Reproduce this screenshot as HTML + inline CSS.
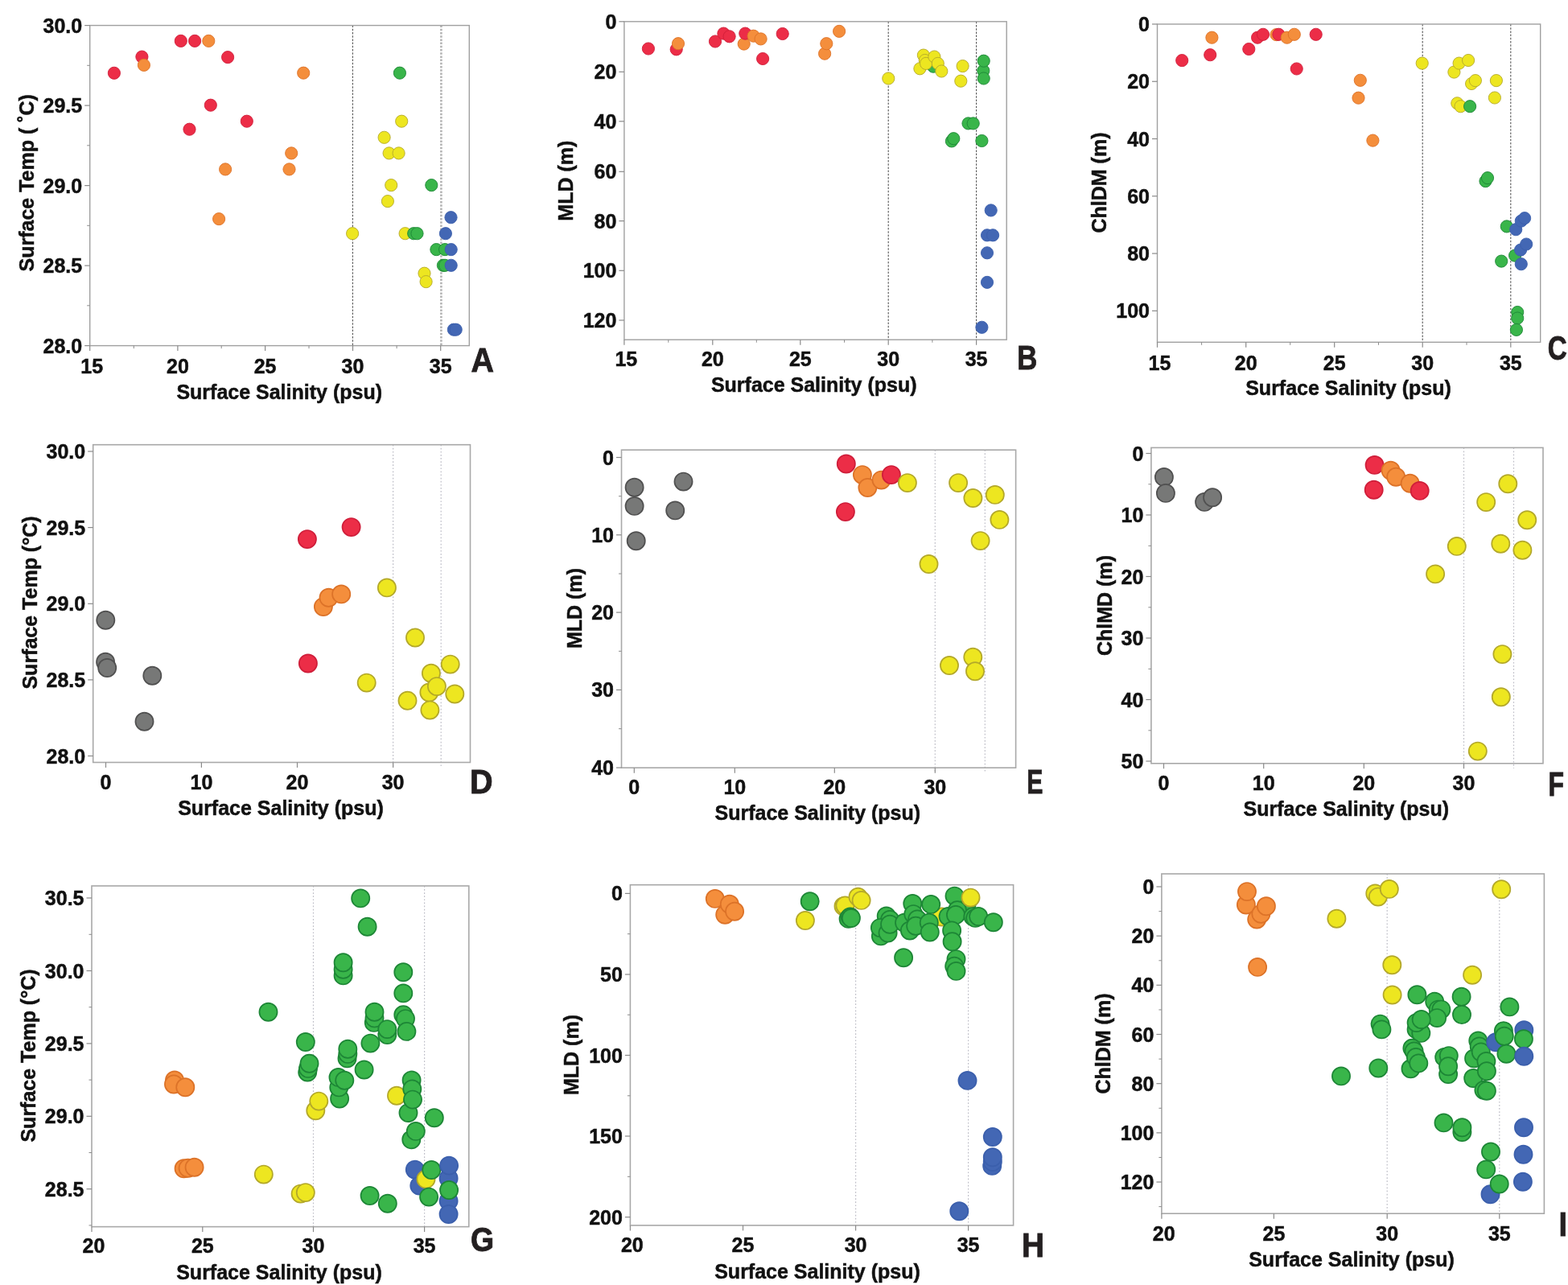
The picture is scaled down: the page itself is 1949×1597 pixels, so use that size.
<!DOCTYPE html>
<html><head><meta charset="utf-8"><title>Scatter plots</title>
<style>
html,body{margin:0;padding:0;background:#fff;}
body{width:1949px;height:1597px;overflow:hidden;}
svg{display:block;}
.t{font-family:'Liberation Sans', Arial, Helvetica, sans-serif;font-weight:bold;font-size:25px;fill:#111;stroke:#111;stroke-width:0.5px;}
.L{font-family:'Liberation Sans', Arial, Helvetica, sans-serif;font-weight:bold;font-size:100px;fill:#231f20;stroke:#231f20;stroke-width:2px;}
</style></head><body>
<svg width="1949" height="1597" viewBox="0 0 1949 1597">
<line x1="438.4" y1="31.6" x2="438.4" y2="429.6" stroke="#555" stroke-width="1.1" stroke-dasharray="2.5,1.7"/>
<line x1="548.4" y1="31.6" x2="548.4" y2="429.6" stroke="#b4b4b4" stroke-width="2.6" stroke-dasharray="2.5,1.7"/>
<rect x="111.7" y="31.6" width="471.59999999999997" height="398.0" fill="none" stroke="#a0a0a0" stroke-width="1.4"/>
<line x1="105.2" y1="31.6" x2="111.7" y2="31.6" stroke="#8a8a8a" stroke-width="1.2"/>
<text x="102.2" y="40.6" text-anchor="end" class="t">30.0</text>
<line x1="105.2" y1="131.1" x2="111.7" y2="131.1" stroke="#8a8a8a" stroke-width="1.2"/>
<text x="102.2" y="140.1" text-anchor="end" class="t">29.5</text>
<line x1="105.2" y1="230.6" x2="111.7" y2="230.6" stroke="#8a8a8a" stroke-width="1.2"/>
<text x="102.2" y="239.6" text-anchor="end" class="t">29.0</text>
<line x1="105.2" y1="330.1" x2="111.7" y2="330.1" stroke="#8a8a8a" stroke-width="1.2"/>
<text x="102.2" y="339.1" text-anchor="end" class="t">28.5</text>
<line x1="105.2" y1="429.6" x2="111.7" y2="429.6" stroke="#8a8a8a" stroke-width="1.2"/>
<text x="102.2" y="438.6" text-anchor="end" class="t">28.0</text>
<line x1="108.2" y1="81.3" x2="111.7" y2="81.3" stroke="#8a8a8a" stroke-width="1"/>
<line x1="108.2" y1="180.8" x2="111.7" y2="180.8" stroke="#8a8a8a" stroke-width="1"/>
<line x1="108.2" y1="280.3" x2="111.7" y2="280.3" stroke="#8a8a8a" stroke-width="1"/>
<line x1="108.2" y1="379.8" x2="111.7" y2="379.8" stroke="#8a8a8a" stroke-width="1"/>
<line x1="111.7" y1="429.6" x2="111.7" y2="436.1" stroke="#8a8a8a" stroke-width="1.2"/>
<text x="114.2" y="464" text-anchor="middle" class="t">15</text>
<line x1="220.9" y1="429.6" x2="220.9" y2="436.1" stroke="#8a8a8a" stroke-width="1.2"/>
<text x="220.9" y="464" text-anchor="middle" class="t">20</text>
<line x1="329.6" y1="429.6" x2="329.6" y2="436.1" stroke="#8a8a8a" stroke-width="1.2"/>
<text x="329.6" y="464" text-anchor="middle" class="t">25</text>
<line x1="438.5" y1="429.6" x2="438.5" y2="436.1" stroke="#8a8a8a" stroke-width="1.2"/>
<text x="438.5" y="464" text-anchor="middle" class="t">30</text>
<line x1="547.7" y1="429.6" x2="547.7" y2="436.1" stroke="#8a8a8a" stroke-width="1.2"/>
<text x="547.7" y="464" text-anchor="middle" class="t">35</text>
<line x1="166.3" y1="429.6" x2="166.3" y2="433.1" stroke="#8a8a8a" stroke-width="1"/>
<line x1="275.2" y1="429.6" x2="275.2" y2="433.1" stroke="#8a8a8a" stroke-width="1"/>
<line x1="384.0" y1="429.6" x2="384.0" y2="433.1" stroke="#8a8a8a" stroke-width="1"/>
<line x1="493.1" y1="429.6" x2="493.1" y2="433.1" stroke="#8a8a8a" stroke-width="1"/>
<circle cx="141.9" cy="90.8" r="7.6" fill="#EC2D47" stroke="#cf1e3a" stroke-width="0.9"/>
<circle cx="176.4" cy="70.6" r="7.6" fill="#EC2D47" stroke="#cf1e3a" stroke-width="0.9"/>
<circle cx="178.9" cy="80.9" r="7.6" fill="#F48E3C" stroke="#dc7228" stroke-width="0.9"/>
<circle cx="224.8" cy="50.9" r="7.6" fill="#EC2D47" stroke="#cf1e3a" stroke-width="0.9"/>
<circle cx="242.1" cy="50.9" r="7.6" fill="#EC2D47" stroke="#cf1e3a" stroke-width="0.9"/>
<circle cx="259.3" cy="50.9" r="7.6" fill="#F48E3C" stroke="#dc7228" stroke-width="0.9"/>
<circle cx="283.1" cy="71.1" r="7.6" fill="#EC2D47" stroke="#cf1e3a" stroke-width="0.9"/>
<circle cx="261.8" cy="130.7" r="7.6" fill="#EC2D47" stroke="#cf1e3a" stroke-width="0.9"/>
<circle cx="306.8" cy="150.7" r="7.6" fill="#EC2D47" stroke="#cf1e3a" stroke-width="0.9"/>
<circle cx="235.5" cy="160.7" r="7.6" fill="#EC2D47" stroke="#cf1e3a" stroke-width="0.9"/>
<circle cx="377.2" cy="90.7" r="7.6" fill="#F48E3C" stroke="#dc7228" stroke-width="0.9"/>
<circle cx="362.2" cy="190.4" r="7.6" fill="#F48E3C" stroke="#dc7228" stroke-width="0.9"/>
<circle cx="359.5" cy="210.4" r="7.6" fill="#F48E3C" stroke="#dc7228" stroke-width="0.9"/>
<circle cx="280.1" cy="210.4" r="7.6" fill="#F48E3C" stroke="#dc7228" stroke-width="0.9"/>
<circle cx="272.1" cy="272.1" r="7.6" fill="#F48E3C" stroke="#dc7228" stroke-width="0.9"/>
<circle cx="496.9" cy="90.7" r="7.6" fill="#39B54A" stroke="#1d8636" stroke-width="0.9"/>
<circle cx="536.3" cy="230.1" r="7.6" fill="#39B54A" stroke="#1d8636" stroke-width="0.9"/>
<circle cx="477.6" cy="170.8" r="7.6" fill="#EDE620" stroke="#b3a82a" stroke-width="0.9"/>
<circle cx="499.2" cy="150.7" r="7.6" fill="#EDE620" stroke="#b3a82a" stroke-width="0.9"/>
<circle cx="483.6" cy="190.4" r="7.6" fill="#EDE620" stroke="#b3a82a" stroke-width="0.9"/>
<circle cx="495.6" cy="190.4" r="7.6" fill="#EDE620" stroke="#b3a82a" stroke-width="0.9"/>
<circle cx="486.2" cy="230.1" r="7.6" fill="#EDE620" stroke="#b3a82a" stroke-width="0.9"/>
<circle cx="481.9" cy="250.1" r="7.6" fill="#EDE620" stroke="#b3a82a" stroke-width="0.9"/>
<circle cx="438.1" cy="290.2" r="7.6" fill="#EDE620" stroke="#b3a82a" stroke-width="0.9"/>
<circle cx="503.6" cy="290.2" r="7.6" fill="#EDE620" stroke="#b3a82a" stroke-width="0.9"/>
<circle cx="514.2" cy="290.2" r="7.6" fill="#39B54A" stroke="#1d8636" stroke-width="0.9"/>
<circle cx="518.5" cy="290.2" r="7.6" fill="#39B54A" stroke="#1d8636" stroke-width="0.9"/>
<circle cx="560.5" cy="270.2" r="7.6" fill="#4367B4" stroke="#3b5fac" stroke-width="0.9"/>
<circle cx="553.9" cy="290.2" r="7.6" fill="#4367B4" stroke="#3b5fac" stroke-width="0.9"/>
<circle cx="542.4" cy="310.1" r="7.6" fill="#39B54A" stroke="#1d8636" stroke-width="0.9"/>
<circle cx="553.1" cy="310.1" r="7.6" fill="#39B54A" stroke="#1d8636" stroke-width="0.9"/>
<circle cx="560.7" cy="310.1" r="7.6" fill="#4367B4" stroke="#3b5fac" stroke-width="0.9"/>
<circle cx="550.9" cy="329.8" r="7.6" fill="#39B54A" stroke="#1d8636" stroke-width="0.9"/>
<circle cx="553.1" cy="329.8" r="7.6" fill="#39B54A" stroke="#1d8636" stroke-width="0.9"/>
<circle cx="560.7" cy="329.8" r="7.6" fill="#4367B4" stroke="#3b5fac" stroke-width="0.9"/>
<circle cx="527.5" cy="339.7" r="7.6" fill="#EDE620" stroke="#b3a82a" stroke-width="0.9"/>
<circle cx="529.6" cy="350.1" r="7.6" fill="#EDE620" stroke="#b3a82a" stroke-width="0.9"/>
<circle cx="563.9" cy="409.7" r="7.6" fill="#4367B4" stroke="#3b5fac" stroke-width="0.9"/>
<circle cx="566.7" cy="409.7" r="7.6" fill="#4367B4" stroke="#3b5fac" stroke-width="0.9"/>
<text x="347.2" y="496" text-anchor="middle" class="t" >Surface Salinity (psu)</text>
<text transform="translate(41.5,227.3) rotate(-90)" x="0" y="0" text-anchor="middle" class="t" >Surface Temp ( ˚C)</text>
<text transform="matrix(0.3940,0,0,0.4290,585.51,461.60)" x="0" y="0" class="L">A</text>
<line x1="1104.2" y1="26.8" x2="1104.2" y2="422.2" stroke="#555" stroke-width="1.1" stroke-dasharray="2.5,1.7"/>
<line x1="1213.6" y1="26.8" x2="1213.6" y2="422.2" stroke="#555" stroke-width="1.1" stroke-dasharray="2.5,1.7"/>
<rect x="775.9" y="26.8" width="475.30000000000007" height="395.4" fill="none" stroke="#a0a0a0" stroke-width="1.4"/>
<line x1="769.4" y1="26.8" x2="775.9" y2="26.8" stroke="#8a8a8a" stroke-width="1.2"/>
<text x="766.4" y="35.8" text-anchor="end" class="t">0</text>
<line x1="769.4" y1="89.3" x2="775.9" y2="89.3" stroke="#8a8a8a" stroke-width="1.2"/>
<text x="766.4" y="98.3" text-anchor="end" class="t">20</text>
<line x1="769.4" y1="150.8" x2="775.9" y2="150.8" stroke="#8a8a8a" stroke-width="1.2"/>
<text x="766.4" y="159.8" text-anchor="end" class="t">40</text>
<line x1="769.4" y1="213.3" x2="775.9" y2="213.3" stroke="#8a8a8a" stroke-width="1.2"/>
<text x="766.4" y="222.3" text-anchor="end" class="t">60</text>
<line x1="769.4" y1="274.6" x2="775.9" y2="274.6" stroke="#8a8a8a" stroke-width="1.2"/>
<text x="766.4" y="283.6" text-anchor="end" class="t">80</text>
<line x1="769.4" y1="336.3" x2="775.9" y2="336.3" stroke="#8a8a8a" stroke-width="1.2"/>
<text x="766.4" y="345.3" text-anchor="end" class="t">100</text>
<line x1="769.4" y1="398.0" x2="775.9" y2="398.0" stroke="#8a8a8a" stroke-width="1.2"/>
<text x="766.4" y="407.0" text-anchor="end" class="t">120</text>
<line x1="775.9" y1="422.2" x2="775.9" y2="428.7" stroke="#8a8a8a" stroke-width="1.2"/>
<text x="778.3" y="455" text-anchor="middle" class="t">15</text>
<line x1="885.8" y1="422.2" x2="885.8" y2="428.7" stroke="#8a8a8a" stroke-width="1.2"/>
<text x="885.8" y="455" text-anchor="middle" class="t">20</text>
<line x1="994.8" y1="422.2" x2="994.8" y2="428.7" stroke="#8a8a8a" stroke-width="1.2"/>
<text x="994.8" y="455" text-anchor="middle" class="t">25</text>
<line x1="1104.2" y1="422.2" x2="1104.2" y2="428.7" stroke="#8a8a8a" stroke-width="1.2"/>
<text x="1104.2" y="455" text-anchor="middle" class="t">30</text>
<line x1="1213.6" y1="422.2" x2="1213.6" y2="428.7" stroke="#8a8a8a" stroke-width="1.2"/>
<text x="1213.6" y="455" text-anchor="middle" class="t">35</text>
<line x1="830.8" y1="422.2" x2="830.8" y2="425.7" stroke="#8a8a8a" stroke-width="1"/>
<line x1="940.3" y1="422.2" x2="940.3" y2="425.7" stroke="#8a8a8a" stroke-width="1"/>
<line x1="1049.5" y1="422.2" x2="1049.5" y2="425.7" stroke="#8a8a8a" stroke-width="1"/>
<line x1="1158.9" y1="422.2" x2="1158.9" y2="425.7" stroke="#8a8a8a" stroke-width="1"/>
<circle cx="805.9" cy="60.5" r="7.6" fill="#EC2D47" stroke="#cf1e3a" stroke-width="0.9"/>
<circle cx="840.7" cy="61.3" r="7.6" fill="#EC2D47" stroke="#cf1e3a" stroke-width="0.9"/>
<circle cx="843.0" cy="54.2" r="7.6" fill="#F48E3C" stroke="#dc7228" stroke-width="0.9"/>
<circle cx="889.0" cy="51.5" r="7.6" fill="#EC2D47" stroke="#cf1e3a" stroke-width="0.9"/>
<circle cx="899.4" cy="41.6" r="7.6" fill="#EC2D47" stroke="#cf1e3a" stroke-width="0.9"/>
<circle cx="906.6" cy="45.3" r="7.6" fill="#EC2D47" stroke="#cf1e3a" stroke-width="0.9"/>
<circle cx="924.7" cy="54.6" r="7.6" fill="#F48E3C" stroke="#dc7228" stroke-width="0.9"/>
<circle cx="926.3" cy="41.6" r="7.6" fill="#EC2D47" stroke="#cf1e3a" stroke-width="0.9"/>
<circle cx="936.6" cy="44.7" r="7.6" fill="#F48E3C" stroke="#dc7228" stroke-width="0.9"/>
<circle cx="945.6" cy="48.4" r="7.6" fill="#F48E3C" stroke="#dc7228" stroke-width="0.9"/>
<circle cx="948.1" cy="73.0" r="7.6" fill="#EC2D47" stroke="#cf1e3a" stroke-width="0.9"/>
<circle cx="972.7" cy="42.0" r="7.6" fill="#EC2D47" stroke="#cf1e3a" stroke-width="0.9"/>
<circle cx="1043.1" cy="38.9" r="7.6" fill="#F48E3C" stroke="#dc7228" stroke-width="0.9"/>
<circle cx="1025.1" cy="66.7" r="7.6" fill="#F48E3C" stroke="#dc7228" stroke-width="0.9"/>
<circle cx="1027.3" cy="54.2" r="7.6" fill="#F48E3C" stroke="#dc7228" stroke-width="0.9"/>
<circle cx="1104.3" cy="97.5" r="7.6" fill="#EDE620" stroke="#b3a82a" stroke-width="0.9"/>
<circle cx="1160.1" cy="82.7" r="7.6" fill="#39B54A" stroke="#1d8636" stroke-width="0.9"/>
<circle cx="1147.9" cy="68.6" r="7.6" fill="#EDE620" stroke="#b3a82a" stroke-width="0.9"/>
<circle cx="1149.8" cy="75.0" r="7.6" fill="#EDE620" stroke="#b3a82a" stroke-width="0.9"/>
<circle cx="1143.4" cy="85.3" r="7.6" fill="#EDE620" stroke="#b3a82a" stroke-width="0.9"/>
<circle cx="1151.1" cy="78.9" r="7.6" fill="#EDE620" stroke="#b3a82a" stroke-width="0.9"/>
<circle cx="1161.4" cy="70.5" r="7.6" fill="#EDE620" stroke="#b3a82a" stroke-width="0.9"/>
<circle cx="1165.8" cy="78.9" r="7.6" fill="#EDE620" stroke="#b3a82a" stroke-width="0.9"/>
<circle cx="1170.3" cy="88.5" r="7.6" fill="#EDE620" stroke="#b3a82a" stroke-width="0.9"/>
<circle cx="1196.6" cy="82.1" r="7.6" fill="#EDE620" stroke="#b3a82a" stroke-width="0.9"/>
<circle cx="1194.3" cy="100.7" r="7.6" fill="#EDE620" stroke="#b3a82a" stroke-width="0.9"/>
<circle cx="1222.3" cy="87.9" r="7.6" fill="#39B54A" stroke="#1d8636" stroke-width="0.9"/>
<circle cx="1222.7" cy="75.7" r="7.6" fill="#39B54A" stroke="#1d8636" stroke-width="0.9"/>
<circle cx="1222.7" cy="97.5" r="7.6" fill="#39B54A" stroke="#1d8636" stroke-width="0.9"/>
<circle cx="1203.5" cy="153.4" r="7.6" fill="#39B54A" stroke="#1d8636" stroke-width="0.9"/>
<circle cx="1209.7" cy="153.4" r="7.6" fill="#39B54A" stroke="#1d8636" stroke-width="0.9"/>
<circle cx="1182.9" cy="175.4" r="7.6" fill="#39B54A" stroke="#1d8636" stroke-width="0.9"/>
<circle cx="1185.3" cy="172.2" r="7.6" fill="#39B54A" stroke="#1d8636" stroke-width="0.9"/>
<circle cx="1220.4" cy="175.0" r="7.6" fill="#39B54A" stroke="#1d8636" stroke-width="0.9"/>
<circle cx="1231.7" cy="261.4" r="7.6" fill="#4367B4" stroke="#3b5fac" stroke-width="0.9"/>
<circle cx="1227.0" cy="292.3" r="7.6" fill="#4367B4" stroke="#3b5fac" stroke-width="0.9"/>
<circle cx="1234.1" cy="292.3" r="7.6" fill="#4367B4" stroke="#3b5fac" stroke-width="0.9"/>
<circle cx="1227.0" cy="314.3" r="7.6" fill="#4367B4" stroke="#3b5fac" stroke-width="0.9"/>
<circle cx="1227.0" cy="350.9" r="7.6" fill="#4367B4" stroke="#3b5fac" stroke-width="0.9"/>
<circle cx="1220.4" cy="406.8" r="7.6" fill="#4367B4" stroke="#3b5fac" stroke-width="0.9"/>
<text x="1011.7" y="486.5" text-anchor="middle" class="t" >Surface Salinity (psu)</text>
<text transform="translate(711.8,224.7) rotate(-90)" x="0" y="0" text-anchor="middle" class="t" >MLD (m)</text>
<text transform="matrix(0.3475,0,0,0.4246,1264.14,459.40)" x="0" y="0" class="L">B</text>
<line x1="1768.2" y1="30" x2="1768.2" y2="425.3" stroke="#555" stroke-width="1.1" stroke-dasharray="2.5,1.7"/>
<line x1="1877.8" y1="30" x2="1877.8" y2="425.3" stroke="#555" stroke-width="1.1" stroke-dasharray="2.5,1.7"/>
<rect x="1438.5" y="30" width="476.20000000000005" height="395.3" fill="none" stroke="#a0a0a0" stroke-width="1.4"/>
<line x1="1432.0" y1="30.0" x2="1438.5" y2="30.0" stroke="#8a8a8a" stroke-width="1.2"/>
<text x="1429.0" y="39.0" text-anchor="end" class="t">0</text>
<line x1="1432.0" y1="101.26" x2="1438.5" y2="101.26" stroke="#8a8a8a" stroke-width="1.2"/>
<text x="1429.0" y="110.26" text-anchor="end" class="t">20</text>
<line x1="1432.0" y1="172.52" x2="1438.5" y2="172.52" stroke="#8a8a8a" stroke-width="1.2"/>
<text x="1429.0" y="181.52" text-anchor="end" class="t">40</text>
<line x1="1432.0" y1="243.78000000000003" x2="1438.5" y2="243.78000000000003" stroke="#8a8a8a" stroke-width="1.2"/>
<text x="1429.0" y="252.78000000000003" text-anchor="end" class="t">60</text>
<line x1="1432.0" y1="315.04" x2="1438.5" y2="315.04" stroke="#8a8a8a" stroke-width="1.2"/>
<text x="1429.0" y="324.04" text-anchor="end" class="t">80</text>
<line x1="1432.0" y1="386.3" x2="1438.5" y2="386.3" stroke="#8a8a8a" stroke-width="1.2"/>
<text x="1429.0" y="395.3" text-anchor="end" class="t">100</text>
<line x1="1438.5" y1="425.3" x2="1438.5" y2="431.8" stroke="#8a8a8a" stroke-width="1.2"/>
<text x="1441.5" y="460" text-anchor="middle" class="t">15</text>
<line x1="1548.7" y1="425.3" x2="1548.7" y2="431.8" stroke="#8a8a8a" stroke-width="1.2"/>
<text x="1548.7" y="460" text-anchor="middle" class="t">20</text>
<line x1="1658.7" y1="425.3" x2="1658.7" y2="431.8" stroke="#8a8a8a" stroke-width="1.2"/>
<text x="1658.7" y="460" text-anchor="middle" class="t">25</text>
<line x1="1768.2" y1="425.3" x2="1768.2" y2="431.8" stroke="#8a8a8a" stroke-width="1.2"/>
<text x="1768.2" y="460" text-anchor="middle" class="t">30</text>
<line x1="1877.8" y1="425.3" x2="1877.8" y2="431.8" stroke="#8a8a8a" stroke-width="1.2"/>
<text x="1877.8" y="460" text-anchor="middle" class="t">35</text>
<line x1="1493.6" y1="425.3" x2="1493.6" y2="428.8" stroke="#8a8a8a" stroke-width="1"/>
<line x1="1603.7" y1="425.3" x2="1603.7" y2="428.8" stroke="#8a8a8a" stroke-width="1"/>
<line x1="1713.5" y1="425.3" x2="1713.5" y2="428.8" stroke="#8a8a8a" stroke-width="1"/>
<line x1="1823.0" y1="425.3" x2="1823.0" y2="428.8" stroke="#8a8a8a" stroke-width="1"/>
<circle cx="1469.2" cy="75.1" r="7.6" fill="#EC2D47" stroke="#cf1e3a" stroke-width="0.9"/>
<circle cx="1506.4" cy="46.7" r="7.6" fill="#F48E3C" stroke="#dc7228" stroke-width="0.9"/>
<circle cx="1504.2" cy="68.2" r="7.6" fill="#EC2D47" stroke="#cf1e3a" stroke-width="0.9"/>
<circle cx="1552.3" cy="61.0" r="7.6" fill="#EC2D47" stroke="#cf1e3a" stroke-width="0.9"/>
<circle cx="1563.1" cy="46.7" r="7.6" fill="#EC2D47" stroke="#cf1e3a" stroke-width="0.9"/>
<circle cx="1570.0" cy="42.8" r="7.6" fill="#EC2D47" stroke="#cf1e3a" stroke-width="0.9"/>
<circle cx="1586.5" cy="43.1" r="7.6" fill="#F48E3C" stroke="#dc7228" stroke-width="0.9"/>
<circle cx="1589.4" cy="42.8" r="7.6" fill="#EC2D47" stroke="#cf1e3a" stroke-width="0.9"/>
<circle cx="1599.7" cy="46.7" r="7.6" fill="#F48E3C" stroke="#dc7228" stroke-width="0.9"/>
<circle cx="1608.8" cy="42.8" r="7.6" fill="#F48E3C" stroke="#dc7228" stroke-width="0.9"/>
<circle cx="1635.7" cy="42.8" r="7.6" fill="#EC2D47" stroke="#cf1e3a" stroke-width="0.9"/>
<circle cx="1611.7" cy="85.5" r="7.6" fill="#EC2D47" stroke="#cf1e3a" stroke-width="0.9"/>
<circle cx="1690.8" cy="99.8" r="7.6" fill="#F48E3C" stroke="#dc7228" stroke-width="0.9"/>
<circle cx="1688.5" cy="121.7" r="7.6" fill="#F48E3C" stroke="#dc7228" stroke-width="0.9"/>
<circle cx="1706.4" cy="174.6" r="7.6" fill="#F48E3C" stroke="#dc7228" stroke-width="0.9"/>
<circle cx="1767.7" cy="78.6" r="7.6" fill="#EDE620" stroke="#b3a82a" stroke-width="0.9"/>
<circle cx="1807.4" cy="89.6" r="7.6" fill="#EDE620" stroke="#b3a82a" stroke-width="0.9"/>
<circle cx="1813.6" cy="78.6" r="7.6" fill="#EDE620" stroke="#b3a82a" stroke-width="0.9"/>
<circle cx="1825.1" cy="75.0" r="7.6" fill="#EDE620" stroke="#b3a82a" stroke-width="0.9"/>
<circle cx="1829.1" cy="104.0" r="7.6" fill="#EDE620" stroke="#b3a82a" stroke-width="0.9"/>
<circle cx="1833.9" cy="100.1" r="7.6" fill="#EDE620" stroke="#b3a82a" stroke-width="0.9"/>
<circle cx="1859.9" cy="100.1" r="7.6" fill="#EDE620" stroke="#b3a82a" stroke-width="0.9"/>
<circle cx="1857.9" cy="121.5" r="7.6" fill="#EDE620" stroke="#b3a82a" stroke-width="0.9"/>
<circle cx="1811.3" cy="128.3" r="7.6" fill="#EDE620" stroke="#b3a82a" stroke-width="0.9"/>
<circle cx="1815.5" cy="132.2" r="7.6" fill="#EDE620" stroke="#b3a82a" stroke-width="0.9"/>
<circle cx="1827.1" cy="132.2" r="7.6" fill="#39B54A" stroke="#1d8636" stroke-width="0.9"/>
<circle cx="1846.5" cy="225.1" r="7.6" fill="#39B54A" stroke="#1d8636" stroke-width="0.9"/>
<circle cx="1849.0" cy="221.1" r="7.6" fill="#39B54A" stroke="#1d8636" stroke-width="0.9"/>
<circle cx="1872.8" cy="281.4" r="7.6" fill="#39B54A" stroke="#1d8636" stroke-width="0.9"/>
<circle cx="1884.2" cy="285.2" r="7.6" fill="#4367B4" stroke="#3b5fac" stroke-width="0.9"/>
<circle cx="1890.8" cy="274.6" r="7.6" fill="#4367B4" stroke="#3b5fac" stroke-width="0.9"/>
<circle cx="1895.1" cy="271.1" r="7.6" fill="#4367B4" stroke="#3b5fac" stroke-width="0.9"/>
<circle cx="1883.1" cy="317.6" r="7.6" fill="#39B54A" stroke="#1d8636" stroke-width="0.9"/>
<circle cx="1866.2" cy="324.6" r="7.6" fill="#39B54A" stroke="#1d8636" stroke-width="0.9"/>
<circle cx="1890.1" cy="310.6" r="7.6" fill="#4367B4" stroke="#3b5fac" stroke-width="0.9"/>
<circle cx="1897.2" cy="303.5" r="7.6" fill="#4367B4" stroke="#3b5fac" stroke-width="0.9"/>
<circle cx="1890.8" cy="328.2" r="7.6" fill="#4367B4" stroke="#3b5fac" stroke-width="0.9"/>
<circle cx="1886.2" cy="388.0" r="7.6" fill="#39B54A" stroke="#1d8636" stroke-width="0.9"/>
<circle cx="1886.2" cy="395.5" r="7.6" fill="#39B54A" stroke="#1d8636" stroke-width="0.9"/>
<circle cx="1884.9" cy="409.9" r="7.6" fill="#39B54A" stroke="#1d8636" stroke-width="0.9"/>
<text x="1676" y="491" text-anchor="middle" class="t" >Surface Salinity (psu)</text>
<text transform="translate(1375.3,227) rotate(-90)" x="0" y="0" text-anchor="middle" class="t" >ChlDM (m)</text>
<text transform="matrix(0.3328,0,0,0.4282,1923.87,446.97)" x="0" y="0" class="L">C</text>
<line x1="488.6" y1="552.7" x2="488.6" y2="953.5" stroke="#bdbdc6" stroke-width="1.2" stroke-dasharray="1.7,2.4"/>
<line x1="548.2" y1="552.7" x2="548.2" y2="953.5" stroke="#bdbdc6" stroke-width="1.2" stroke-dasharray="1.7,2.4"/>
<rect x="115.7" y="552.7" width="468.8" height="394.79999999999995" fill="none" stroke="#a8a8a8" stroke-width="1.6"/>
<line x1="109.2" y1="561" x2="115.7" y2="561" stroke="#8a8a8a" stroke-width="1.2"/>
<text x="106.2" y="570" text-anchor="end" class="t">30.0</text>
<line x1="109.2" y1="655.6" x2="115.7" y2="655.6" stroke="#8a8a8a" stroke-width="1.2"/>
<text x="106.2" y="664.6" text-anchor="end" class="t">29.5</text>
<line x1="109.2" y1="750.3" x2="115.7" y2="750.3" stroke="#8a8a8a" stroke-width="1.2"/>
<text x="106.2" y="759.3" text-anchor="end" class="t">29.0</text>
<line x1="109.2" y1="844.9" x2="115.7" y2="844.9" stroke="#8a8a8a" stroke-width="1.2"/>
<text x="106.2" y="853.9" text-anchor="end" class="t">28.5</text>
<line x1="109.2" y1="939.5" x2="115.7" y2="939.5" stroke="#8a8a8a" stroke-width="1.2"/>
<text x="106.2" y="948.5" text-anchor="end" class="t">28.0</text>
<line x1="131.5" y1="947.5" x2="131.5" y2="954.0" stroke="#8a8a8a" stroke-width="1.2"/>
<text x="131.5" y="981" text-anchor="middle" class="t">0</text>
<line x1="250.4" y1="947.5" x2="250.4" y2="954.0" stroke="#8a8a8a" stroke-width="1.2"/>
<text x="250.4" y="981" text-anchor="middle" class="t">10</text>
<line x1="369.5" y1="947.5" x2="369.5" y2="954.0" stroke="#8a8a8a" stroke-width="1.2"/>
<text x="369.5" y="981" text-anchor="middle" class="t">20</text>
<line x1="488.6" y1="947.5" x2="488.6" y2="954.0" stroke="#8a8a8a" stroke-width="1.2"/>
<text x="488.6" y="981" text-anchor="middle" class="t">30</text>
<circle cx="131.3" cy="770.8" r="11.1" fill="#777877" stroke="#505050" stroke-width="1.7"/>
<circle cx="131.1" cy="822.8" r="11.1" fill="#777877" stroke="#505050" stroke-width="1.7"/>
<circle cx="133.2" cy="830.0" r="11.1" fill="#777877" stroke="#505050" stroke-width="1.7"/>
<circle cx="189.3" cy="839.7" r="11.1" fill="#777877" stroke="#505050" stroke-width="1.7"/>
<circle cx="179.5" cy="896.7" r="11.1" fill="#777877" stroke="#505050" stroke-width="1.7"/>
<circle cx="381.9" cy="670.1" r="11.1" fill="#EC2D47" stroke="#cf1e3a" stroke-width="1.7"/>
<circle cx="436.6" cy="655.1" r="11.1" fill="#EC2D47" stroke="#cf1e3a" stroke-width="1.7"/>
<circle cx="382.9" cy="824.5" r="11.1" fill="#EC2D47" stroke="#cf1e3a" stroke-width="1.7"/>
<circle cx="401.9" cy="754.1" r="11.1" fill="#F48E3C" stroke="#dc7228" stroke-width="1.7"/>
<circle cx="408.5" cy="742.8" r="11.1" fill="#F48E3C" stroke="#dc7228" stroke-width="1.7"/>
<circle cx="424.2" cy="738.4" r="11.1" fill="#F48E3C" stroke="#dc7228" stroke-width="1.7"/>
<circle cx="480.9" cy="730.4" r="11.1" fill="#EDE620" stroke="#b3a82a" stroke-width="1.7"/>
<circle cx="516.0" cy="792.5" r="11.1" fill="#EDE620" stroke="#b3a82a" stroke-width="1.7"/>
<circle cx="455.7" cy="848.6" r="11.1" fill="#EDE620" stroke="#b3a82a" stroke-width="1.7"/>
<circle cx="559.7" cy="825.6" r="11.1" fill="#EDE620" stroke="#b3a82a" stroke-width="1.7"/>
<circle cx="535.9" cy="836.7" r="11.1" fill="#EDE620" stroke="#b3a82a" stroke-width="1.7"/>
<circle cx="533.4" cy="860.5" r="11.1" fill="#EDE620" stroke="#b3a82a" stroke-width="1.7"/>
<circle cx="542.9" cy="853.1" r="11.1" fill="#EDE620" stroke="#b3a82a" stroke-width="1.7"/>
<circle cx="565.3" cy="862.5" r="11.1" fill="#EDE620" stroke="#b3a82a" stroke-width="1.7"/>
<circle cx="506.5" cy="870.7" r="11.1" fill="#EDE620" stroke="#b3a82a" stroke-width="1.7"/>
<circle cx="534.4" cy="882.6" r="11.1" fill="#EDE620" stroke="#b3a82a" stroke-width="1.7"/>
<text x="349" y="1012.5" text-anchor="middle" class="t" >Surface Salinity (psu)</text>
<text transform="translate(46,749) rotate(-90)" x="0" y="0" text-anchor="middle" class="t" >Surface Temp (°C)</text>
<text transform="matrix(0.3967,0,0,0.4275,583.92,986.20)" x="0" y="0" class="L">D</text>
<line x1="1162.3" y1="559.2" x2="1162.3" y2="960.2" stroke="#bdbdc6" stroke-width="1.2" stroke-dasharray="1.7,2.4"/>
<line x1="1224.3" y1="559.2" x2="1224.3" y2="960.2" stroke="#bdbdc6" stroke-width="1.2" stroke-dasharray="1.7,2.4"/>
<rect x="772.5" y="559.2" width="490.0999999999999" height="395.0" fill="none" stroke="#a8a8a8" stroke-width="1.6"/>
<line x1="766.0" y1="568.5" x2="772.5" y2="568.5" stroke="#8a8a8a" stroke-width="1.2"/>
<text x="763.0" y="577.5" text-anchor="end" class="t">0</text>
<line x1="766.0" y1="664.8" x2="772.5" y2="664.8" stroke="#8a8a8a" stroke-width="1.2"/>
<text x="763.0" y="673.8" text-anchor="end" class="t">10</text>
<line x1="766.0" y1="761.1" x2="772.5" y2="761.1" stroke="#8a8a8a" stroke-width="1.2"/>
<text x="763.0" y="770.1" text-anchor="end" class="t">20</text>
<line x1="766.0" y1="857.4" x2="772.5" y2="857.4" stroke="#8a8a8a" stroke-width="1.2"/>
<text x="763.0" y="866.4" text-anchor="end" class="t">30</text>
<line x1="766.0" y1="954.1" x2="772.5" y2="954.1" stroke="#8a8a8a" stroke-width="1.2"/>
<text x="763.0" y="963.1" text-anchor="end" class="t">40</text>
<line x1="769.0" y1="616.7" x2="772.5" y2="616.7" stroke="#8a8a8a" stroke-width="1"/>
<line x1="769.0" y1="713.0" x2="772.5" y2="713.0" stroke="#8a8a8a" stroke-width="1"/>
<line x1="769.0" y1="809.3" x2="772.5" y2="809.3" stroke="#8a8a8a" stroke-width="1"/>
<line x1="769.0" y1="905.7" x2="772.5" y2="905.7" stroke="#8a8a8a" stroke-width="1"/>
<line x1="788.3" y1="954.2" x2="788.3" y2="960.7" stroke="#8a8a8a" stroke-width="1.2"/>
<text x="788.3" y="987" text-anchor="middle" class="t">0</text>
<line x1="913.3" y1="954.2" x2="913.3" y2="960.7" stroke="#8a8a8a" stroke-width="1.2"/>
<text x="913.3" y="987" text-anchor="middle" class="t">10</text>
<line x1="1037.3" y1="954.2" x2="1037.3" y2="960.7" stroke="#8a8a8a" stroke-width="1.2"/>
<text x="1037.3" y="987" text-anchor="middle" class="t">20</text>
<line x1="1162.3" y1="954.2" x2="1162.3" y2="960.7" stroke="#8a8a8a" stroke-width="1.2"/>
<text x="1162.3" y="987" text-anchor="middle" class="t">30</text>
<circle cx="788.6" cy="605.8" r="11.1" fill="#777877" stroke="#505050" stroke-width="1.7"/>
<circle cx="788.6" cy="628.9" r="11.1" fill="#777877" stroke="#505050" stroke-width="1.7"/>
<circle cx="790.7" cy="672.3" r="11.1" fill="#777877" stroke="#505050" stroke-width="1.7"/>
<circle cx="849.5" cy="598.6" r="11.1" fill="#777877" stroke="#505050" stroke-width="1.7"/>
<circle cx="839.2" cy="634.4" r="11.1" fill="#777877" stroke="#505050" stroke-width="1.7"/>
<circle cx="1051.8" cy="576.5" r="11.1" fill="#EC2D47" stroke="#cf1e3a" stroke-width="1.7"/>
<circle cx="1071.9" cy="590.1" r="11.1" fill="#F48E3C" stroke="#dc7228" stroke-width="1.7"/>
<circle cx="1078.4" cy="606.0" r="11.1" fill="#F48E3C" stroke="#dc7228" stroke-width="1.7"/>
<circle cx="1095.5" cy="596.6" r="11.1" fill="#F48E3C" stroke="#dc7228" stroke-width="1.7"/>
<circle cx="1107.9" cy="590.1" r="11.1" fill="#EC2D47" stroke="#cf1e3a" stroke-width="1.7"/>
<circle cx="1127.9" cy="600.1" r="11.1" fill="#EDE620" stroke="#b3a82a" stroke-width="1.7"/>
<circle cx="1050.9" cy="636.1" r="11.1" fill="#EC2D47" stroke="#cf1e3a" stroke-width="1.7"/>
<circle cx="1191.1" cy="600.1" r="11.1" fill="#EDE620" stroke="#b3a82a" stroke-width="1.7"/>
<circle cx="1209.4" cy="619.0" r="11.1" fill="#EDE620" stroke="#b3a82a" stroke-width="1.7"/>
<circle cx="1236.8" cy="614.9" r="11.1" fill="#EDE620" stroke="#b3a82a" stroke-width="1.7"/>
<circle cx="1242.4" cy="645.9" r="11.1" fill="#EDE620" stroke="#b3a82a" stroke-width="1.7"/>
<circle cx="1218.6" cy="672.1" r="11.1" fill="#EDE620" stroke="#b3a82a" stroke-width="1.7"/>
<circle cx="1154.5" cy="701.0" r="11.1" fill="#EDE620" stroke="#b3a82a" stroke-width="1.7"/>
<circle cx="1209.3" cy="816.7" r="11.1" fill="#EDE620" stroke="#b3a82a" stroke-width="1.7"/>
<circle cx="1180.0" cy="827.0" r="11.1" fill="#EDE620" stroke="#b3a82a" stroke-width="1.7"/>
<circle cx="1212.0" cy="834.3" r="11.1" fill="#EDE620" stroke="#b3a82a" stroke-width="1.7"/>
<text x="1016.3" y="1018.5" text-anchor="middle" class="t" >Surface Salinity (psu)</text>
<text transform="translate(723,756) rotate(-90)" x="0" y="0" text-anchor="middle" class="t" >MLD (m)</text>
<text transform="matrix(0.3027,0,0,0.4275,1276.23,986.20)" x="0" y="0" class="L">E</text>
<line x1="1819.5" y1="556.4" x2="1819.5" y2="954.8" stroke="#bdbdc6" stroke-width="1.2" stroke-dasharray="1.7,2.4"/>
<line x1="1881.5" y1="556.4" x2="1881.5" y2="954.8" stroke="#bdbdc6" stroke-width="1.2" stroke-dasharray="1.7,2.4"/>
<rect x="1430.9" y="556.4" width="487.0999999999999" height="392.4" fill="none" stroke="#a8a8a8" stroke-width="1.6"/>
<line x1="1424.4" y1="563.5" x2="1430.9" y2="563.5" stroke="#8a8a8a" stroke-width="1.2"/>
<text x="1421.4" y="572.5" text-anchor="end" class="t">0</text>
<line x1="1424.4" y1="640.0" x2="1430.9" y2="640.0" stroke="#8a8a8a" stroke-width="1.2"/>
<text x="1421.4" y="649.0" text-anchor="end" class="t">10</text>
<line x1="1424.4" y1="716.5" x2="1430.9" y2="716.5" stroke="#8a8a8a" stroke-width="1.2"/>
<text x="1421.4" y="725.5" text-anchor="end" class="t">20</text>
<line x1="1424.4" y1="793.0" x2="1430.9" y2="793.0" stroke="#8a8a8a" stroke-width="1.2"/>
<text x="1421.4" y="802.0" text-anchor="end" class="t">30</text>
<line x1="1424.4" y1="869.5" x2="1430.9" y2="869.5" stroke="#8a8a8a" stroke-width="1.2"/>
<text x="1421.4" y="878.5" text-anchor="end" class="t">40</text>
<line x1="1424.4" y1="946.0" x2="1430.9" y2="946.0" stroke="#8a8a8a" stroke-width="1.2"/>
<text x="1421.4" y="955.0" text-anchor="end" class="t">50</text>
<line x1="1427.4" y1="601.8" x2="1430.9" y2="601.8" stroke="#8a8a8a" stroke-width="1"/>
<line x1="1427.4" y1="678.3" x2="1430.9" y2="678.3" stroke="#8a8a8a" stroke-width="1"/>
<line x1="1427.4" y1="754.8" x2="1430.9" y2="754.8" stroke="#8a8a8a" stroke-width="1"/>
<line x1="1427.4" y1="831.3" x2="1430.9" y2="831.3" stroke="#8a8a8a" stroke-width="1"/>
<line x1="1427.4" y1="907.8" x2="1430.9" y2="907.8" stroke="#8a8a8a" stroke-width="1"/>
<line x1="1446.5" y1="948.8" x2="1446.5" y2="955.3" stroke="#8a8a8a" stroke-width="1.2"/>
<text x="1446.5" y="982" text-anchor="middle" class="t">0</text>
<line x1="1570.7" y1="948.8" x2="1570.7" y2="955.3" stroke="#8a8a8a" stroke-width="1.2"/>
<text x="1570.7" y="982" text-anchor="middle" class="t">10</text>
<line x1="1695.3" y1="948.8" x2="1695.3" y2="955.3" stroke="#8a8a8a" stroke-width="1.2"/>
<text x="1695.3" y="982" text-anchor="middle" class="t">20</text>
<line x1="1819.5" y1="948.8" x2="1819.5" y2="955.3" stroke="#8a8a8a" stroke-width="1.2"/>
<text x="1819.5" y="982" text-anchor="middle" class="t">30</text>
<circle cx="1446.9" cy="592.9" r="11.1" fill="#777877" stroke="#505050" stroke-width="1.7"/>
<circle cx="1448.9" cy="612.9" r="11.1" fill="#777877" stroke="#505050" stroke-width="1.7"/>
<circle cx="1497.1" cy="623.9" r="11.1" fill="#777877" stroke="#505050" stroke-width="1.7"/>
<circle cx="1507.1" cy="618.2" r="11.1" fill="#777877" stroke="#505050" stroke-width="1.7"/>
<circle cx="1867.4" cy="813.1" r="11.1" fill="#EDE620" stroke="#b3a82a" stroke-width="1.7"/>
<circle cx="1865.8" cy="866.3" r="11.1" fill="#EDE620" stroke="#b3a82a" stroke-width="1.7"/>
<circle cx="1836.8" cy="933.6" r="11.1" fill="#EDE620" stroke="#b3a82a" stroke-width="1.7"/>
<circle cx="1708.6" cy="577.9" r="11.1" fill="#EC2D47" stroke="#cf1e3a" stroke-width="1.7"/>
<circle cx="1728.6" cy="584.7" r="11.1" fill="#F48E3C" stroke="#dc7228" stroke-width="1.7"/>
<circle cx="1735.2" cy="592.7" r="11.1" fill="#F48E3C" stroke="#dc7228" stroke-width="1.7"/>
<circle cx="1752.7" cy="600.7" r="11.1" fill="#F48E3C" stroke="#dc7228" stroke-width="1.7"/>
<circle cx="1707.7" cy="608.7" r="11.1" fill="#EC2D47" stroke="#cf1e3a" stroke-width="1.7"/>
<circle cx="1764.7" cy="609.9" r="11.1" fill="#EC2D47" stroke="#cf1e3a" stroke-width="1.7"/>
<circle cx="1874.3" cy="601.3" r="11.1" fill="#EDE620" stroke="#b3a82a" stroke-width="1.7"/>
<circle cx="1847.2" cy="624.1" r="11.1" fill="#EDE620" stroke="#b3a82a" stroke-width="1.7"/>
<circle cx="1898.2" cy="646.3" r="11.1" fill="#EDE620" stroke="#b3a82a" stroke-width="1.7"/>
<circle cx="1810.8" cy="678.9" r="11.1" fill="#EDE620" stroke="#b3a82a" stroke-width="1.7"/>
<circle cx="1865.3" cy="675.8" r="11.1" fill="#EDE620" stroke="#b3a82a" stroke-width="1.7"/>
<circle cx="1892.4" cy="683.8" r="11.1" fill="#EDE620" stroke="#b3a82a" stroke-width="1.7"/>
<circle cx="1784.1" cy="713.4" r="11.1" fill="#EDE620" stroke="#b3a82a" stroke-width="1.7"/>
<text x="1673.3" y="1013.5" text-anchor="middle" class="t" >Surface Salinity (psu)</text>
<text transform="translate(1382,752.5) rotate(-90)" x="0" y="0" text-anchor="middle" class="t" >ChlMD (m)</text>
<text transform="matrix(0.3196,0,0,0.4261,1924.42,988.50)" x="0" y="0" class="L">F</text>
<line x1="389.5" y1="1101" x2="389.5" y2="1524.6" stroke="#bdbdc6" stroke-width="1.2" stroke-dasharray="1.7,2.4"/>
<line x1="527.6" y1="1101" x2="527.6" y2="1524.6" stroke="#bdbdc6" stroke-width="1.2" stroke-dasharray="1.7,2.4"/>
<rect x="114" y="1101" width="468.79999999999995" height="423.5999999999999" fill="none" stroke="#a8a8a8" stroke-width="1.6"/>
<line x1="107.5" y1="1116" x2="114" y2="1116" stroke="#8a8a8a" stroke-width="1.2"/>
<text x="104.5" y="1125" text-anchor="end" class="t">30.5</text>
<line x1="107.5" y1="1206.5" x2="114" y2="1206.5" stroke="#8a8a8a" stroke-width="1.2"/>
<text x="104.5" y="1215.5" text-anchor="end" class="t">30.0</text>
<line x1="107.5" y1="1296.9" x2="114" y2="1296.9" stroke="#8a8a8a" stroke-width="1.2"/>
<text x="104.5" y="1305.9" text-anchor="end" class="t">29.5</text>
<line x1="107.5" y1="1387.3" x2="114" y2="1387.3" stroke="#8a8a8a" stroke-width="1.2"/>
<text x="104.5" y="1396.3" text-anchor="end" class="t">29.0</text>
<line x1="107.5" y1="1477.7" x2="114" y2="1477.7" stroke="#8a8a8a" stroke-width="1.2"/>
<text x="104.5" y="1486.7" text-anchor="end" class="t">28.5</text>
<line x1="110.5" y1="1161.3" x2="114" y2="1161.3" stroke="#8a8a8a" stroke-width="1"/>
<line x1="110.5" y1="1251.7" x2="114" y2="1251.7" stroke="#8a8a8a" stroke-width="1"/>
<line x1="110.5" y1="1342.1" x2="114" y2="1342.1" stroke="#8a8a8a" stroke-width="1"/>
<line x1="110.5" y1="1432.5" x2="114" y2="1432.5" stroke="#8a8a8a" stroke-width="1"/>
<line x1="110.5" y1="1522.9" x2="114" y2="1522.9" stroke="#8a8a8a" stroke-width="1"/>
<line x1="114" y1="1524.6" x2="114" y2="1531.1" stroke="#8a8a8a" stroke-width="1.2"/>
<text x="116.4" y="1557" text-anchor="middle" class="t">20</text>
<line x1="251.8" y1="1524.6" x2="251.8" y2="1531.1" stroke="#8a8a8a" stroke-width="1.2"/>
<text x="251.8" y="1557" text-anchor="middle" class="t">25</text>
<line x1="389.5" y1="1524.6" x2="389.5" y2="1531.1" stroke="#8a8a8a" stroke-width="1.2"/>
<text x="389.5" y="1557" text-anchor="middle" class="t">30</text>
<line x1="527.6" y1="1524.6" x2="527.6" y2="1531.1" stroke="#8a8a8a" stroke-width="1.2"/>
<text x="527.6" y="1557" text-anchor="middle" class="t">35</text>
<circle cx="217.0" cy="1342.5" r="11.1" fill="#F48E3C" stroke="#dc7228" stroke-width="1.7"/>
<circle cx="216.0" cy="1347.5" r="11.1" fill="#F48E3C" stroke="#dc7228" stroke-width="1.7"/>
<circle cx="230.3" cy="1351.3" r="11.1" fill="#F48E3C" stroke="#dc7228" stroke-width="1.7"/>
<circle cx="228.6" cy="1452.3" r="11.1" fill="#F48E3C" stroke="#dc7228" stroke-width="1.7"/>
<circle cx="233.6" cy="1451.8" r="11.1" fill="#F48E3C" stroke="#dc7228" stroke-width="1.7"/>
<circle cx="241.6" cy="1450.8" r="11.1" fill="#F48E3C" stroke="#dc7228" stroke-width="1.7"/>
<circle cx="327.8" cy="1459.6" r="11.1" fill="#EDE620" stroke="#b3a82a" stroke-width="1.7"/>
<circle cx="373.6" cy="1483.6" r="11.1" fill="#EDE620" stroke="#b3a82a" stroke-width="1.7"/>
<circle cx="379.8" cy="1482.1" r="11.1" fill="#EDE620" stroke="#b3a82a" stroke-width="1.7"/>
<circle cx="392.3" cy="1380.3" r="11.1" fill="#EDE620" stroke="#b3a82a" stroke-width="1.7"/>
<circle cx="396.3" cy="1368.6" r="11.1" fill="#EDE620" stroke="#b3a82a" stroke-width="1.7"/>
<circle cx="448.2" cy="1116.4" r="11.1" fill="#39B54A" stroke="#1d8636" stroke-width="1.7"/>
<circle cx="456.6" cy="1151.7" r="11.1" fill="#39B54A" stroke="#1d8636" stroke-width="1.7"/>
<circle cx="426.6" cy="1212.4" r="11.1" fill="#39B54A" stroke="#1d8636" stroke-width="1.7"/>
<circle cx="426.6" cy="1204.7" r="11.1" fill="#39B54A" stroke="#1d8636" stroke-width="1.7"/>
<circle cx="426.6" cy="1196.3" r="11.1" fill="#39B54A" stroke="#1d8636" stroke-width="1.7"/>
<circle cx="333.5" cy="1257.8" r="11.1" fill="#39B54A" stroke="#1d8636" stroke-width="1.7"/>
<circle cx="379.8" cy="1295.0" r="11.1" fill="#39B54A" stroke="#1d8636" stroke-width="1.7"/>
<circle cx="382.2" cy="1332.6" r="11.1" fill="#39B54A" stroke="#1d8636" stroke-width="1.7"/>
<circle cx="383.0" cy="1327.9" r="11.1" fill="#39B54A" stroke="#1d8636" stroke-width="1.7"/>
<circle cx="384.5" cy="1321.7" r="11.1" fill="#39B54A" stroke="#1d8636" stroke-width="1.7"/>
<circle cx="431.5" cy="1315.4" r="11.1" fill="#39B54A" stroke="#1d8636" stroke-width="1.7"/>
<circle cx="432.3" cy="1309.9" r="11.1" fill="#39B54A" stroke="#1d8636" stroke-width="1.7"/>
<circle cx="432.3" cy="1303.7" r="11.1" fill="#39B54A" stroke="#1d8636" stroke-width="1.7"/>
<circle cx="460.4" cy="1296.6" r="11.1" fill="#39B54A" stroke="#1d8636" stroke-width="1.7"/>
<circle cx="452.6" cy="1329.5" r="11.1" fill="#39B54A" stroke="#1d8636" stroke-width="1.7"/>
<circle cx="422.1" cy="1365.5" r="11.1" fill="#39B54A" stroke="#1d8636" stroke-width="1.7"/>
<circle cx="421.3" cy="1351.4" r="11.1" fill="#39B54A" stroke="#1d8636" stroke-width="1.7"/>
<circle cx="420.5" cy="1338.9" r="11.1" fill="#39B54A" stroke="#1d8636" stroke-width="1.7"/>
<circle cx="428.3" cy="1342.8" r="11.1" fill="#39B54A" stroke="#1d8636" stroke-width="1.7"/>
<circle cx="459.6" cy="1486.0" r="11.1" fill="#39B54A" stroke="#1d8636" stroke-width="1.7"/>
<circle cx="481.8" cy="1495.8" r="11.1" fill="#39B54A" stroke="#1d8636" stroke-width="1.7"/>
<circle cx="501.3" cy="1208.2" r="11.1" fill="#39B54A" stroke="#1d8636" stroke-width="1.7"/>
<circle cx="501.3" cy="1234.4" r="11.1" fill="#39B54A" stroke="#1d8636" stroke-width="1.7"/>
<circle cx="464.8" cy="1270.9" r="11.1" fill="#39B54A" stroke="#1d8636" stroke-width="1.7"/>
<circle cx="465.5" cy="1265.4" r="11.1" fill="#39B54A" stroke="#1d8636" stroke-width="1.7"/>
<circle cx="465.5" cy="1257.8" r="11.1" fill="#39B54A" stroke="#1d8636" stroke-width="1.7"/>
<circle cx="481.3" cy="1286.0" r="11.1" fill="#39B54A" stroke="#1d8636" stroke-width="1.7"/>
<circle cx="481.3" cy="1279.1" r="11.1" fill="#39B54A" stroke="#1d8636" stroke-width="1.7"/>
<circle cx="501.3" cy="1261.2" r="11.1" fill="#39B54A" stroke="#1d8636" stroke-width="1.7"/>
<circle cx="504.0" cy="1266.1" r="11.1" fill="#39B54A" stroke="#1d8636" stroke-width="1.7"/>
<circle cx="505.4" cy="1281.9" r="11.1" fill="#39B54A" stroke="#1d8636" stroke-width="1.7"/>
<circle cx="493.0" cy="1361.8" r="11.1" fill="#EDE620" stroke="#b3a82a" stroke-width="1.7"/>
<circle cx="507.5" cy="1383.1" r="11.1" fill="#39B54A" stroke="#1d8636" stroke-width="1.7"/>
<circle cx="511.6" cy="1342.5" r="11.1" fill="#39B54A" stroke="#1d8636" stroke-width="1.7"/>
<circle cx="512.3" cy="1353.5" r="11.1" fill="#39B54A" stroke="#1d8636" stroke-width="1.7"/>
<circle cx="513.0" cy="1366.6" r="11.1" fill="#39B54A" stroke="#1d8636" stroke-width="1.7"/>
<circle cx="539.8" cy="1389.3" r="11.1" fill="#39B54A" stroke="#1d8636" stroke-width="1.7"/>
<circle cx="511.3" cy="1416.3" r="11.1" fill="#39B54A" stroke="#1d8636" stroke-width="1.7"/>
<circle cx="516.8" cy="1405.9" r="11.1" fill="#39B54A" stroke="#1d8636" stroke-width="1.7"/>
<circle cx="515.8" cy="1453.6" r="11.1" fill="#4367B4" stroke="#3b5fac" stroke-width="1.7"/>
<circle cx="521.3" cy="1473.6" r="11.1" fill="#4367B4" stroke="#3b5fac" stroke-width="1.7"/>
<circle cx="529.5" cy="1465.4" r="11.1" fill="#EDE620" stroke="#b3a82a" stroke-width="1.7"/>
<circle cx="536.3" cy="1454.0" r="11.1" fill="#39B54A" stroke="#1d8636" stroke-width="1.7"/>
<circle cx="533.1" cy="1487.6" r="11.1" fill="#39B54A" stroke="#1d8636" stroke-width="1.7"/>
<circle cx="557.6" cy="1464.5" r="11.1" fill="#4367B4" stroke="#3b5fac" stroke-width="1.7"/>
<circle cx="557.6" cy="1492.6" r="11.1" fill="#4367B4" stroke="#3b5fac" stroke-width="1.7"/>
<circle cx="558.1" cy="1448.6" r="11.1" fill="#4367B4" stroke="#3b5fac" stroke-width="1.7"/>
<circle cx="558.1" cy="1479.0" r="11.1" fill="#39B54A" stroke="#1d8636" stroke-width="1.7"/>
<circle cx="557.6" cy="1509.0" r="11.1" fill="#4367B4" stroke="#3b5fac" stroke-width="1.7"/>
<text x="347" y="1590" text-anchor="middle" class="t" >Surface Salinity (psu)</text>
<text transform="translate(43.5,1312) rotate(-90)" x="0" y="0" text-anchor="middle" class="t" >Surface Temp (°C)</text>
<text transform="matrix(0.3748,0,0,0.4310,584.90,1554.97)" x="0" y="0" class="L">G</text>
<line x1="1063.6" y1="1099.7" x2="1063.6" y2="1522.9" stroke="#bdbdc6" stroke-width="1.2" stroke-dasharray="1.7,2.4"/>
<line x1="1203.6" y1="1099.7" x2="1203.6" y2="1522.9" stroke="#bdbdc6" stroke-width="1.2" stroke-dasharray="1.7,2.4"/>
<rect x="783.4" y="1099.7" width="476.19999999999993" height="423.20000000000005" fill="none" stroke="#a8a8a8" stroke-width="1.6"/>
<line x1="776.9" y1="1110.4" x2="783.4" y2="1110.4" stroke="#8a8a8a" stroke-width="1.2"/>
<text x="773.9" y="1119.4" text-anchor="end" class="t">0</text>
<line x1="776.9" y1="1211" x2="783.4" y2="1211" stroke="#8a8a8a" stroke-width="1.2"/>
<text x="773.9" y="1220" text-anchor="end" class="t">50</text>
<line x1="776.9" y1="1311.5" x2="783.4" y2="1311.5" stroke="#8a8a8a" stroke-width="1.2"/>
<text x="773.9" y="1320.5" text-anchor="end" class="t">100</text>
<line x1="776.9" y1="1412" x2="783.4" y2="1412" stroke="#8a8a8a" stroke-width="1.2"/>
<text x="773.9" y="1421" text-anchor="end" class="t">150</text>
<line x1="776.9" y1="1512.6" x2="783.4" y2="1512.6" stroke="#8a8a8a" stroke-width="1.2"/>
<text x="773.9" y="1521.6" text-anchor="end" class="t">200</text>
<line x1="779.9" y1="1160.7" x2="783.4" y2="1160.7" stroke="#8a8a8a" stroke-width="1"/>
<line x1="779.9" y1="1261.2" x2="783.4" y2="1261.2" stroke="#8a8a8a" stroke-width="1"/>
<line x1="779.9" y1="1361.8" x2="783.4" y2="1361.8" stroke="#8a8a8a" stroke-width="1"/>
<line x1="779.9" y1="1462.3" x2="783.4" y2="1462.3" stroke="#8a8a8a" stroke-width="1"/>
<line x1="783.4" y1="1522.9" x2="783.4" y2="1529.4" stroke="#8a8a8a" stroke-width="1.2"/>
<text x="785.8" y="1556" text-anchor="middle" class="t">20</text>
<line x1="923.5" y1="1522.9" x2="923.5" y2="1529.4" stroke="#8a8a8a" stroke-width="1.2"/>
<text x="923.5" y="1556" text-anchor="middle" class="t">25</text>
<line x1="1063.6" y1="1522.9" x2="1063.6" y2="1529.4" stroke="#8a8a8a" stroke-width="1.2"/>
<text x="1063.6" y="1556" text-anchor="middle" class="t">30</text>
<line x1="1203.6" y1="1522.9" x2="1203.6" y2="1529.4" stroke="#8a8a8a" stroke-width="1.2"/>
<text x="1203.6" y="1556" text-anchor="middle" class="t">35</text>
<circle cx="888.8" cy="1116.9" r="11.1" fill="#F48E3C" stroke="#dc7228" stroke-width="1.7"/>
<circle cx="901.2" cy="1136.7" r="11.1" fill="#F48E3C" stroke="#dc7228" stroke-width="1.7"/>
<circle cx="906.8" cy="1123.7" r="11.1" fill="#F48E3C" stroke="#dc7228" stroke-width="1.7"/>
<circle cx="913.1" cy="1132.7" r="11.1" fill="#F48E3C" stroke="#dc7228" stroke-width="1.7"/>
<circle cx="1006.7" cy="1120.3" r="11.1" fill="#39B54A" stroke="#1d8636" stroke-width="1.7"/>
<circle cx="1000.9" cy="1144.0" r="11.1" fill="#EDE620" stroke="#b3a82a" stroke-width="1.7"/>
<circle cx="1048.5" cy="1126.3" r="11.1" fill="#EDE620" stroke="#b3a82a" stroke-width="1.7"/>
<circle cx="1050.5" cy="1125.5" r="11.1" fill="#EDE620" stroke="#b3a82a" stroke-width="1.7"/>
<circle cx="1066.5" cy="1114.8" r="11.1" fill="#EDE620" stroke="#b3a82a" stroke-width="1.7"/>
<circle cx="1070.6" cy="1118.9" r="11.1" fill="#EDE620" stroke="#b3a82a" stroke-width="1.7"/>
<circle cx="1054.6" cy="1141.9" r="11.1" fill="#39B54A" stroke="#1d8636" stroke-width="1.7"/>
<circle cx="1056.7" cy="1139.4" r="11.1" fill="#39B54A" stroke="#1d8636" stroke-width="1.7"/>
<circle cx="1057.9" cy="1141.0" r="11.1" fill="#39B54A" stroke="#1d8636" stroke-width="1.7"/>
<circle cx="1170.5" cy="1139.5" r="11.1" fill="#EDE620" stroke="#b3a82a" stroke-width="1.7"/>
<circle cx="1101.7" cy="1138.5" r="11.1" fill="#39B54A" stroke="#1d8636" stroke-width="1.7"/>
<circle cx="1106.1" cy="1142.9" r="11.1" fill="#39B54A" stroke="#1d8636" stroke-width="1.7"/>
<circle cx="1094.9" cy="1163.4" r="11.1" fill="#39B54A" stroke="#1d8636" stroke-width="1.7"/>
<circle cx="1093.9" cy="1153.1" r="11.1" fill="#39B54A" stroke="#1d8636" stroke-width="1.7"/>
<circle cx="1103.6" cy="1159.5" r="11.1" fill="#39B54A" stroke="#1d8636" stroke-width="1.7"/>
<circle cx="1106.1" cy="1148.7" r="11.1" fill="#39B54A" stroke="#1d8636" stroke-width="1.7"/>
<circle cx="1134.3" cy="1122.9" r="11.1" fill="#39B54A" stroke="#1d8636" stroke-width="1.7"/>
<circle cx="1157.2" cy="1123.9" r="11.1" fill="#39B54A" stroke="#1d8636" stroke-width="1.7"/>
<circle cx="1124.1" cy="1146.8" r="11.1" fill="#39B54A" stroke="#1d8636" stroke-width="1.7"/>
<circle cx="1135.3" cy="1136.1" r="11.1" fill="#39B54A" stroke="#1d8636" stroke-width="1.7"/>
<circle cx="1140.2" cy="1142.4" r="11.1" fill="#39B54A" stroke="#1d8636" stroke-width="1.7"/>
<circle cx="1130.9" cy="1156.5" r="11.1" fill="#39B54A" stroke="#1d8636" stroke-width="1.7"/>
<circle cx="1138.2" cy="1150.7" r="11.1" fill="#39B54A" stroke="#1d8636" stroke-width="1.7"/>
<circle cx="1154.8" cy="1146.8" r="11.1" fill="#39B54A" stroke="#1d8636" stroke-width="1.7"/>
<circle cx="1155.8" cy="1158.5" r="11.1" fill="#39B54A" stroke="#1d8636" stroke-width="1.7"/>
<circle cx="1201.6" cy="1123.4" r="11.1" fill="#39B54A" stroke="#1d8636" stroke-width="1.7"/>
<circle cx="1186.5" cy="1113.6" r="11.1" fill="#39B54A" stroke="#1d8636" stroke-width="1.7"/>
<circle cx="1178.6" cy="1139.0" r="11.1" fill="#39B54A" stroke="#1d8636" stroke-width="1.7"/>
<circle cx="1189.9" cy="1131.2" r="11.1" fill="#39B54A" stroke="#1d8636" stroke-width="1.7"/>
<circle cx="1188.0" cy="1137.0" r="11.1" fill="#39B54A" stroke="#1d8636" stroke-width="1.7"/>
<circle cx="1183.1" cy="1156.5" r="11.1" fill="#39B54A" stroke="#1d8636" stroke-width="1.7"/>
<circle cx="1183.6" cy="1170.2" r="11.1" fill="#39B54A" stroke="#1d8636" stroke-width="1.7"/>
<circle cx="1209.4" cy="1139.0" r="11.1" fill="#39B54A" stroke="#1d8636" stroke-width="1.7"/>
<circle cx="1212.3" cy="1140.9" r="11.1" fill="#39B54A" stroke="#1d8636" stroke-width="1.7"/>
<circle cx="1216.2" cy="1139.0" r="11.1" fill="#39B54A" stroke="#1d8636" stroke-width="1.7"/>
<circle cx="1234.8" cy="1146.3" r="11.1" fill="#39B54A" stroke="#1d8636" stroke-width="1.7"/>
<circle cx="1206.5" cy="1115.6" r="11.1" fill="#EDE620" stroke="#b3a82a" stroke-width="1.7"/>
<circle cx="1188.5" cy="1192.1" r="11.1" fill="#39B54A" stroke="#1d8636" stroke-width="1.7"/>
<circle cx="1186.2" cy="1200.8" r="11.1" fill="#39B54A" stroke="#1d8636" stroke-width="1.7"/>
<circle cx="1188.5" cy="1206.9" r="11.1" fill="#39B54A" stroke="#1d8636" stroke-width="1.7"/>
<circle cx="1123.1" cy="1190.2" r="11.1" fill="#39B54A" stroke="#1d8636" stroke-width="1.7"/>
<circle cx="1202.5" cy="1342.9" r="11.1" fill="#4367B4" stroke="#3b5fac" stroke-width="1.7"/>
<circle cx="1233.8" cy="1413.0" r="11.1" fill="#4367B4" stroke="#3b5fac" stroke-width="1.7"/>
<circle cx="1233.2" cy="1448.9" r="11.1" fill="#4367B4" stroke="#3b5fac" stroke-width="1.7"/>
<circle cx="1233.8" cy="1443.9" r="11.1" fill="#4367B4" stroke="#3b5fac" stroke-width="1.7"/>
<circle cx="1233.8" cy="1438.3" r="11.1" fill="#4367B4" stroke="#3b5fac" stroke-width="1.7"/>
<circle cx="1192.3" cy="1505.3" r="11.1" fill="#4367B4" stroke="#3b5fac" stroke-width="1.7"/>
<text x="1016" y="1588.5" text-anchor="middle" class="t" >Surface Salinity (psu)</text>
<text transform="translate(719,1311) rotate(-90)" x="0" y="0" text-anchor="middle" class="t" >MLD (m)</text>
<text transform="matrix(0.3881,0,0,0.4246,1269.98,1562.40)" x="0" y="0" class="L">H</text>
<line x1="1724.2" y1="1086" x2="1724.2" y2="1508.2" stroke="#bdbdc6" stroke-width="1.2" stroke-dasharray="1.7,2.4"/>
<line x1="1863.8" y1="1086" x2="1863.8" y2="1508.2" stroke="#bdbdc6" stroke-width="1.2" stroke-dasharray="1.7,2.4"/>
<rect x="1443.9" y="1086" width="475.5" height="422.20000000000005" fill="none" stroke="#a8a8a8" stroke-width="1.6"/>
<line x1="1437.4" y1="1102.0" x2="1443.9" y2="1102.0" stroke="#8a8a8a" stroke-width="1.2"/>
<text x="1434.4" y="1111.0" text-anchor="end" class="t">0</text>
<line x1="1437.4" y1="1163.17" x2="1443.9" y2="1163.17" stroke="#8a8a8a" stroke-width="1.2"/>
<text x="1434.4" y="1172.17" text-anchor="end" class="t">20</text>
<line x1="1437.4" y1="1224.34" x2="1443.9" y2="1224.34" stroke="#8a8a8a" stroke-width="1.2"/>
<text x="1434.4" y="1233.34" text-anchor="end" class="t">40</text>
<line x1="1437.4" y1="1285.51" x2="1443.9" y2="1285.51" stroke="#8a8a8a" stroke-width="1.2"/>
<text x="1434.4" y="1294.51" text-anchor="end" class="t">60</text>
<line x1="1437.4" y1="1346.68" x2="1443.9" y2="1346.68" stroke="#8a8a8a" stroke-width="1.2"/>
<text x="1434.4" y="1355.68" text-anchor="end" class="t">80</text>
<line x1="1437.4" y1="1407.85" x2="1443.9" y2="1407.85" stroke="#8a8a8a" stroke-width="1.2"/>
<text x="1434.4" y="1416.85" text-anchor="end" class="t">100</text>
<line x1="1437.4" y1="1469.02" x2="1443.9" y2="1469.02" stroke="#8a8a8a" stroke-width="1.2"/>
<text x="1434.4" y="1478.02" text-anchor="end" class="t">120</text>
<line x1="1440.4" y1="1132.6" x2="1443.9" y2="1132.6" stroke="#8a8a8a" stroke-width="1"/>
<line x1="1440.4" y1="1193.77" x2="1443.9" y2="1193.77" stroke="#8a8a8a" stroke-width="1"/>
<line x1="1440.4" y1="1254.9399999999998" x2="1443.9" y2="1254.9399999999998" stroke="#8a8a8a" stroke-width="1"/>
<line x1="1440.4" y1="1316.11" x2="1443.9" y2="1316.11" stroke="#8a8a8a" stroke-width="1"/>
<line x1="1440.4" y1="1377.28" x2="1443.9" y2="1377.28" stroke="#8a8a8a" stroke-width="1"/>
<line x1="1440.4" y1="1438.4499999999998" x2="1443.9" y2="1438.4499999999998" stroke="#8a8a8a" stroke-width="1"/>
<line x1="1440.4" y1="1499.62" x2="1443.9" y2="1499.62" stroke="#8a8a8a" stroke-width="1"/>
<line x1="1443.9" y1="1508.2" x2="1443.9" y2="1514.7" stroke="#8a8a8a" stroke-width="1.2"/>
<text x="1446.7" y="1542" text-anchor="middle" class="t">20</text>
<line x1="1583.4" y1="1508.2" x2="1583.4" y2="1514.7" stroke="#8a8a8a" stroke-width="1.2"/>
<text x="1583.4" y="1542" text-anchor="middle" class="t">25</text>
<line x1="1724.2" y1="1508.2" x2="1724.2" y2="1514.7" stroke="#8a8a8a" stroke-width="1.2"/>
<text x="1724.2" y="1542" text-anchor="middle" class="t">30</text>
<line x1="1863.8" y1="1508.2" x2="1863.8" y2="1514.7" stroke="#8a8a8a" stroke-width="1.2"/>
<text x="1863.8" y="1542" text-anchor="middle" class="t">35</text>
<circle cx="1548.9" cy="1124.5" r="11.1" fill="#F48E3C" stroke="#dc7228" stroke-width="1.7"/>
<circle cx="1550.0" cy="1108.1" r="11.1" fill="#F48E3C" stroke="#dc7228" stroke-width="1.7"/>
<circle cx="1562.2" cy="1142.6" r="11.1" fill="#F48E3C" stroke="#dc7228" stroke-width="1.7"/>
<circle cx="1567.4" cy="1135.8" r="11.1" fill="#F48E3C" stroke="#dc7228" stroke-width="1.7"/>
<circle cx="1573.9" cy="1126.3" r="11.1" fill="#F48E3C" stroke="#dc7228" stroke-width="1.7"/>
<circle cx="1563.1" cy="1201.9" r="11.1" fill="#F48E3C" stroke="#dc7228" stroke-width="1.7"/>
<circle cx="1661.4" cy="1141.8" r="11.1" fill="#EDE620" stroke="#b3a82a" stroke-width="1.7"/>
<circle cx="1709.3" cy="1110.5" r="11.1" fill="#EDE620" stroke="#b3a82a" stroke-width="1.7"/>
<circle cx="1712.9" cy="1114.6" r="11.1" fill="#EDE620" stroke="#b3a82a" stroke-width="1.7"/>
<circle cx="1726.8" cy="1104.9" r="11.1" fill="#EDE620" stroke="#b3a82a" stroke-width="1.7"/>
<circle cx="1730.3" cy="1199.3" r="11.1" fill="#EDE620" stroke="#b3a82a" stroke-width="1.7"/>
<circle cx="1866.2" cy="1105.3" r="11.1" fill="#EDE620" stroke="#b3a82a" stroke-width="1.7"/>
<circle cx="1830.1" cy="1211.8" r="11.1" fill="#EDE620" stroke="#b3a82a" stroke-width="1.7"/>
<circle cx="1730.6" cy="1236.5" r="11.1" fill="#EDE620" stroke="#b3a82a" stroke-width="1.7"/>
<circle cx="1761.4" cy="1236.2" r="11.1" fill="#39B54A" stroke="#1d8636" stroke-width="1.7"/>
<circle cx="1783.2" cy="1244.8" r="11.1" fill="#39B54A" stroke="#1d8636" stroke-width="1.7"/>
<circle cx="1787.7" cy="1254.6" r="11.1" fill="#39B54A" stroke="#1d8636" stroke-width="1.7"/>
<circle cx="1791.4" cy="1254.6" r="11.1" fill="#39B54A" stroke="#1d8636" stroke-width="1.7"/>
<circle cx="1786.2" cy="1265.1" r="11.1" fill="#39B54A" stroke="#1d8636" stroke-width="1.7"/>
<circle cx="1816.6" cy="1238.8" r="11.1" fill="#39B54A" stroke="#1d8636" stroke-width="1.7"/>
<circle cx="1817.0" cy="1261.0" r="11.1" fill="#39B54A" stroke="#1d8636" stroke-width="1.7"/>
<circle cx="1715.6" cy="1272.6" r="11.1" fill="#39B54A" stroke="#1d8636" stroke-width="1.7"/>
<circle cx="1717.4" cy="1279.4" r="11.1" fill="#39B54A" stroke="#1d8636" stroke-width="1.7"/>
<circle cx="1760.6" cy="1279.4" r="11.1" fill="#39B54A" stroke="#1d8636" stroke-width="1.7"/>
<circle cx="1766.3" cy="1283.9" r="11.1" fill="#39B54A" stroke="#1d8636" stroke-width="1.7"/>
<circle cx="1760.6" cy="1271.1" r="11.1" fill="#39B54A" stroke="#1d8636" stroke-width="1.7"/>
<circle cx="1766.7" cy="1267.0" r="11.1" fill="#39B54A" stroke="#1d8636" stroke-width="1.7"/>
<circle cx="1755.4" cy="1302.7" r="11.1" fill="#39B54A" stroke="#1d8636" stroke-width="1.7"/>
<circle cx="1757.6" cy="1306.4" r="11.1" fill="#39B54A" stroke="#1d8636" stroke-width="1.7"/>
<circle cx="1753.5" cy="1328.2" r="11.1" fill="#39B54A" stroke="#1d8636" stroke-width="1.7"/>
<circle cx="1759.9" cy="1313.9" r="11.1" fill="#39B54A" stroke="#1d8636" stroke-width="1.7"/>
<circle cx="1763.3" cy="1321.4" r="11.1" fill="#39B54A" stroke="#1d8636" stroke-width="1.7"/>
<circle cx="1713.3" cy="1327.5" r="11.1" fill="#39B54A" stroke="#1d8636" stroke-width="1.7"/>
<circle cx="1667.0" cy="1337.4" r="11.1" fill="#39B54A" stroke="#1d8636" stroke-width="1.7"/>
<circle cx="1795.2" cy="1313.9" r="11.1" fill="#39B54A" stroke="#1d8636" stroke-width="1.7"/>
<circle cx="1800.8" cy="1312.1" r="11.1" fill="#39B54A" stroke="#1d8636" stroke-width="1.7"/>
<circle cx="1800.1" cy="1335.0" r="11.1" fill="#39B54A" stroke="#1d8636" stroke-width="1.7"/>
<circle cx="1800.1" cy="1325.2" r="11.1" fill="#39B54A" stroke="#1d8636" stroke-width="1.7"/>
<circle cx="1876.4" cy="1251.4" r="11.1" fill="#39B54A" stroke="#1d8636" stroke-width="1.7"/>
<circle cx="1832.1" cy="1315.4" r="11.1" fill="#39B54A" stroke="#1d8636" stroke-width="1.7"/>
<circle cx="1831.2" cy="1340.0" r="11.1" fill="#39B54A" stroke="#1d8636" stroke-width="1.7"/>
<circle cx="1837.3" cy="1293.5" r="11.1" fill="#39B54A" stroke="#1d8636" stroke-width="1.7"/>
<circle cx="1838.7" cy="1300.5" r="11.1" fill="#39B54A" stroke="#1d8636" stroke-width="1.7"/>
<circle cx="1840.8" cy="1307.5" r="11.1" fill="#39B54A" stroke="#1d8636" stroke-width="1.7"/>
<circle cx="1847.4" cy="1318.9" r="11.1" fill="#39B54A" stroke="#1d8636" stroke-width="1.7"/>
<circle cx="1847.9" cy="1331.2" r="11.1" fill="#39B54A" stroke="#1d8636" stroke-width="1.7"/>
<circle cx="1844.4" cy="1354.8" r="11.1" fill="#39B54A" stroke="#1d8636" stroke-width="1.7"/>
<circle cx="1847.9" cy="1355.7" r="11.1" fill="#39B54A" stroke="#1d8636" stroke-width="1.7"/>
<circle cx="1859.3" cy="1295.2" r="11.1" fill="#4367B4" stroke="#3b5fac" stroke-width="1.7"/>
<circle cx="1868.9" cy="1281.2" r="11.1" fill="#39B54A" stroke="#1d8636" stroke-width="1.7"/>
<circle cx="1869.8" cy="1287.8" r="11.1" fill="#39B54A" stroke="#1d8636" stroke-width="1.7"/>
<circle cx="1872.4" cy="1309.7" r="11.1" fill="#39B54A" stroke="#1d8636" stroke-width="1.7"/>
<circle cx="1894.3" cy="1280.3" r="11.1" fill="#4367B4" stroke="#3b5fac" stroke-width="1.7"/>
<circle cx="1893.9" cy="1291.3" r="11.1" fill="#39B54A" stroke="#1d8636" stroke-width="1.7"/>
<circle cx="1894.3" cy="1312.8" r="11.1" fill="#4367B4" stroke="#3b5fac" stroke-width="1.7"/>
<circle cx="1794.5" cy="1395.4" r="11.1" fill="#39B54A" stroke="#1d8636" stroke-width="1.7"/>
<circle cx="1817.4" cy="1407.1" r="11.1" fill="#39B54A" stroke="#1d8636" stroke-width="1.7"/>
<circle cx="1817.4" cy="1401.2" r="11.1" fill="#39B54A" stroke="#1d8636" stroke-width="1.7"/>
<circle cx="1853.0" cy="1431.5" r="11.1" fill="#39B54A" stroke="#1d8636" stroke-width="1.7"/>
<circle cx="1847.2" cy="1453.4" r="11.1" fill="#39B54A" stroke="#1d8636" stroke-width="1.7"/>
<circle cx="1852.5" cy="1484.2" r="11.1" fill="#4367B4" stroke="#3b5fac" stroke-width="1.7"/>
<circle cx="1863.7" cy="1471.5" r="11.1" fill="#39B54A" stroke="#1d8636" stroke-width="1.7"/>
<circle cx="1894.0" cy="1401.2" r="11.1" fill="#4367B4" stroke="#3b5fac" stroke-width="1.7"/>
<circle cx="1893.5" cy="1434.7" r="11.1" fill="#4367B4" stroke="#3b5fac" stroke-width="1.7"/>
<circle cx="1892.9" cy="1468.8" r="11.1" fill="#4367B4" stroke="#3b5fac" stroke-width="1.7"/>
<text x="1680" y="1573.5" text-anchor="middle" class="t" >Surface Salinity (psu)</text>
<text transform="translate(1380,1297) rotate(-90)" x="0" y="0" text-anchor="middle" class="t" >ChlDM (m)</text>
<text transform="matrix(0.3793,0,0,0.4232,1937.43,1536.20)" x="0" y="0" class="L">I</text>
</svg>
</body></html>
